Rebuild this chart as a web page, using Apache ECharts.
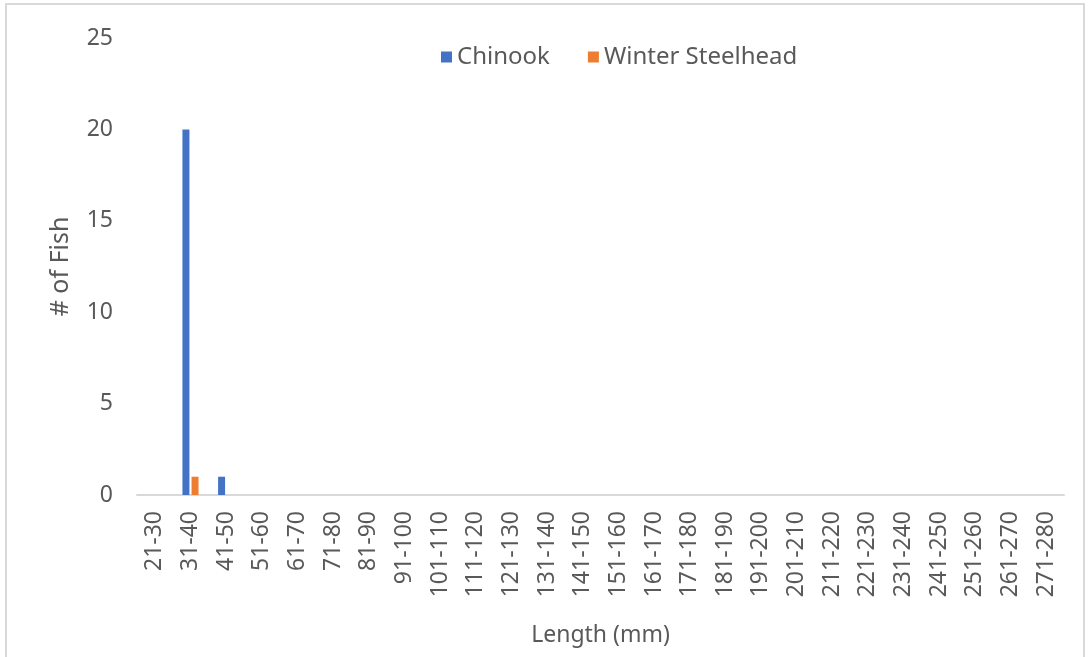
<!DOCTYPE html>
<html>
<head>
<meta charset="utf-8">
<script src="https://cdn.jsdelivr.net/npm/echarts@6/dist/echarts.min.js"></script>
<style>
  html, body { margin: 0; padding: 0; background: #fff; }
  #frame { position: absolute; left: 5px; top: 3px; width: 1080px; height: 660px; border: 2px solid #d9d9d9; box-sizing: border-box; }
  #chart { position: absolute; left: 0; top: 0; width: 1090px; height: 657px; }
</style>
</head>
<body>
<div id="frame"></div>
<div id="chart"></div>
<script>
// length classes (mm)
let lengthBins = ['21-30','31-40','41-50','51-60','61-70','71-80','81-90','91-100','101-110','111-120',
  '121-130','131-140','141-150','151-160','161-170','171-180','181-190','191-200','201-210','211-220',
  '221-230','231-240','241-250','251-260','261-270','271-280'];
let chinook = [0,20,1,0,0,0,0,0,0,0,0,0,0,0,0,0,0,0,0,0,0,0,0,0,0,0];
let winterSteelhead = [0,1,0,0,0,0,0,0,0,0,0,0,0,0,0,0,0,0,0,0,0,0,0,0,0,0];
let yTicks = [0,5,10,15,20,25];

let textColor = '#595959';
let fontFam = '"Noto Sans", "Open Sans", sans-serif';

let chart = echarts.init(document.getElementById('chart'));
chart.setOption({
    animation: false,
    color: ['#4472C4', '#ED7D31'],
    textStyle: { fontFamily: fontFam },
    legend: {
        data: ['Chinook', 'Winter Steelhead'],
        top: 40,
        left: 436,
        itemWidth: 11,
        itemHeight: 11,
        itemGap: 38,
        icon: 'rect',
        textStyle: { color: textColor, fontSize: 24, fontFamily: fontFam }
    },
    grid: { left: 137, right: 26, top: 38, bottom: 162, outerBoundsMode: 'none' },
    xAxis: {
        type: 'category',
        data: lengthBins,
        name: 'Length (mm)',
        nameLocation: 'middle',
        nameGap: 129,
        nameTextStyle: { color: textColor, fontSize: 23 },
        axisLine: { lineStyle: { color: '#d9d9d9', width: 2 } },
        axisTick: { show: false },
        axisLabel: { rotate: 90, color: textColor, fontSize: 23, interval: 0, margin: 16 }
    },
    yAxis: {
        type: 'value',
        min: yTicks[0],
        max: yTicks[yTicks.length - 1],
        interval: 5,
        name: '# of Fish',
        nameLocation: 'middle',
        nameGap: 64,
        nameTextStyle: { color: textColor, fontSize: 25 },
        splitLine: { show: false },
        axisLine: { show: false },
        axisTick: { show: false },
        axisLabel: { color: textColor, fontSize: 23, margin: 24 }
    },
    series: [
        { name: 'Chinook', type: 'bar', data: chinook, barWidth: 7, barGap: '30%' },
        { name: 'Winter Steelhead', type: 'bar', data: winterSteelhead, barWidth: 7, barGap: '30%' }
    ]
});
</script>
</body>
</html>
